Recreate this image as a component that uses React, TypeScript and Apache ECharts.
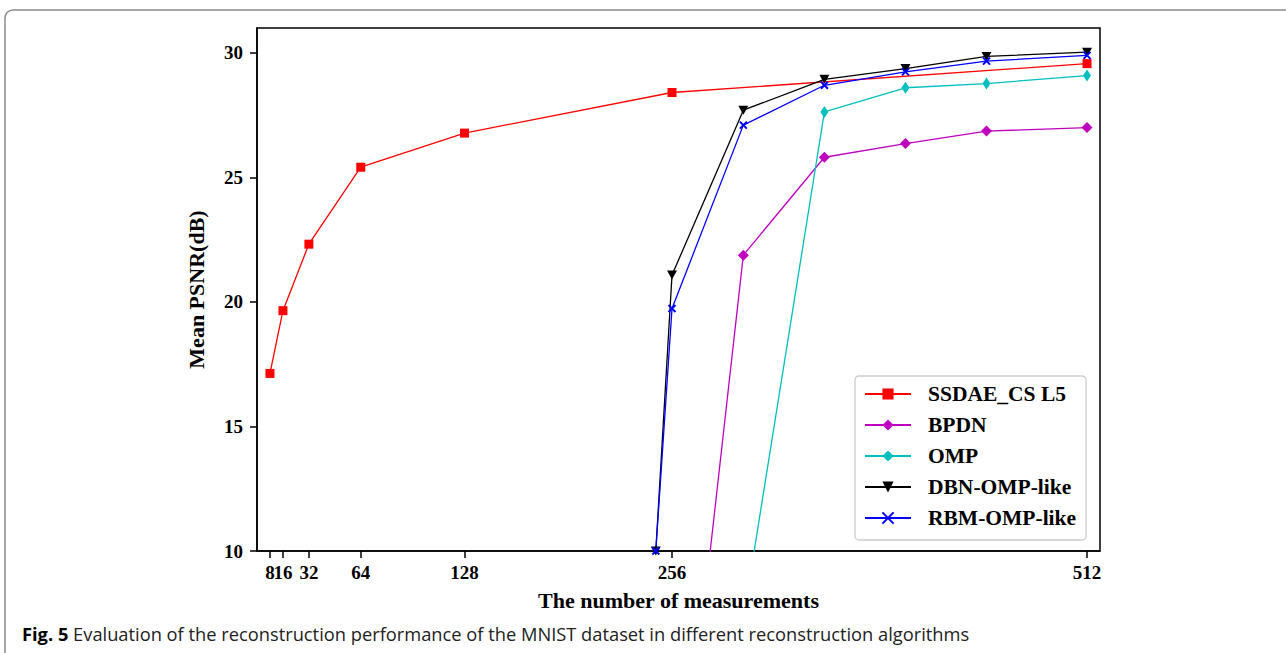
import React, { useEffect, useRef } from "react";
import * as echarts from "echarts";

const xTicks = [8, 32, 64, 128, 256, 512];
const xTicksExtra = [16];
const yTicks = [10, 15, 20, 25, 30];

const ssdaeX = [8, 16, 32, 64, 128, 256, 512];
const ssdaeY = [17.13, 19.65, 22.32, 25.41, 26.78, 28.41, 29.57];

const bpdnX = [256, 300, 350, 400, 450, 512];
const bpdnY = [-3.7, 21.88, 25.81, 26.36, 26.86, 27.0];

const ompX = [300, 350, 400, 450, 512];
const ompY = [7.28, 27.63, 28.6, 28.77, 29.09];

const dbnX = [246, 256, 300, 350, 400, 450, 512];
const dbnY = [10, 21.08, 27.7, 28.94, 29.37, 29.86, 30.03];

const rbmX = [246, 256, 300, 350, 400, 450, 512];
const rbmY = [10, 19.74, 27.1, 28.7, 29.24, 29.67, 29.9];

const seriesNames = ["SSDAE_CS L5", "BPDN", "OMP", "DBN-OMP-like", "RBM-OMP-like"];

const caption = "Evaluation of the reconstruction performance of the MNIST dataset in different reconstruction algorithms";

const serif = "'Liberation Serif', 'DejaVu Serif', serif";
const sans = "'Open Sans', 'Noto Sans', sans-serif";

function pairs(xs: number[], ys: number[]) {
  return xs.map((x, i) => [x, ys[i]]);
}

export default function App() {
  const ref = useRef<HTMLDivElement>(null);
  useEffect(() => {
    if (!ref.current) return;
    const chart = echarts.init(ref.current, undefined, { renderer: "svg" });
    const lineW = 1.3;
    const tickLabel = { margin: 12, fontFamily: serif, fontWeight: "bold", fontSize: 19, color: "#000" };
    chart.setOption({
      animation: false,
      backgroundColor: "#ffffff",
      grid: { left: 257, top: 28, width: 843, height: 523, show: true, borderColor: "#000", borderWidth: 1.5, backgroundColor: "transparent" },
      xAxis: [
        {
          type: "value",
          min: 0,
          max: 520,
          name: "The number of measurements",
          nameLocation: "middle",
          nameGap: 38,
          nameTextStyle: { fontFamily: serif, fontWeight: "bold", fontSize: 22, color: "#000" },
          axisLine: { show: true, lineStyle: { color: "#000", width: 1.5 } },
          axisTick: { show: true, length: 7, inside: false, customValues: xTicks, lineStyle: { color: "#000", width: 1.5 } },
          axisLabel: { ...tickLabel, customValues: xTicks, hideOverlap: false },
          splitLine: { show: false },
        },
        {
          type: "value",
          min: 0,
          max: 520,
          position: "bottom",
          offset: 0,
          axisLine: { show: false },
          axisTick: { show: true, length: 7, inside: false, customValues: xTicksExtra, lineStyle: { color: "#000", width: 1.5 } },
          axisLabel: { ...tickLabel, customValues: xTicksExtra },
          splitLine: { show: false },
        },
      ],
      yAxis: {
        type: "value",
        min: 10,
        max: 31,
        name: "Mean PSNR(dB)",
        nameLocation: "middle",
        nameGap: 50,
        nameTextStyle: { fontFamily: serif, fontWeight: "bold", fontSize: 22, color: "#000" },
        axisLine: { show: true, lineStyle: { color: "#000", width: 1.5 } },
        axisTick: { show: true, length: 7, inside: false, customValues: yTicks, lineStyle: { color: "#000", width: 1.5 } },
        axisLabel: { customValues: yTicks, margin: 14, fontFamily: serif, fontWeight: "bold", fontSize: 19, color: "#000" },
        splitLine: { show: false },
      },
      legend: {
        orient: "vertical",
        left: 855,
        top: 376,
        width: 234,
        padding: [7, 10, 11, 9],
        itemWidth: 46,
        itemHeight: 14,
        itemGap: 9,
        backgroundColor: "#fff",
        borderColor: "#cccccc",
        borderWidth: 1.3,
        borderRadius: 4,
        data: seriesNames,
        textStyle: { fontFamily: serif, fontWeight: "bold", fontSize: 21.5, color: "#000", lineHeight: 18, padding: [0, 0, 0, 12] },
      },
      series: [
        {
          name: seriesNames[0], type: "line", data: pairs(ssdaeX, ssdaeY),
          symbol: "rect", symbolSize: 9,
          lineStyle: { color: "#ff0000", width: lineW }, itemStyle: { color: "#ff0000" },
        },
        {
          name: seriesNames[1], type: "line", data: pairs(bpdnX, bpdnY),
          symbol: "diamond", symbolSize: [11, 11],
          lineStyle: { color: "#bf00bf", width: lineW }, itemStyle: { color: "#bf00bf" },
        },
        {
          name: seriesNames[2], type: "line", data: pairs(ompX, ompY),
          symbol: "diamond", symbolSize: [8, 12],
          lineStyle: { color: "#00bfbf", width: lineW }, itemStyle: { color: "#00bfbf" },
        },
        {
          name: seriesNames[3], type: "line", data: pairs(dbnX, dbnY),
          symbol: "triangle", symbolRotate: 180, symbolSize: [10, 9],
          lineStyle: { color: "#000000", width: lineW }, itemStyle: { color: "#000000" },
        },
        {
          name: seriesNames[4], type: "line", data: pairs(rbmX, rbmY),
          symbol: "path://M0,0 L10,10 M10,0 L0,10", symbolSize: 7,
          lineStyle: { color: "#0000ff", width: lineW },
          itemStyle: { color: "#0000ff", borderColor: "#0000ff", borderWidth: 2 },
        },
      ],
      graphic: [
        {
          type: "rect", silent: true, z: -10,
          shape: { x: 5, y: 10, width: 1320, height: 700, r: 8 },
          style: { fill: "none", stroke: "#8a8a8a", lineWidth: 1.5 },
        },
        {
          type: "text", left: 22, top: 624,
          style: {
            text: "{b|Fig. 5} " + caption,
            rich: {
              b: { fontFamily: sans, fontWeight: "bold", fontSize: 18.3, fill: "#000" },
            },
            fontFamily: sans, fontSize: 18.3, fill: "#222",
          },
        },
      ],
    });
    return () => chart.dispose();
  }, []);
  return <div ref={ref} style={{ position: "absolute", left: 0, top: 0, width: 1286, height: 653 }} />;
}
